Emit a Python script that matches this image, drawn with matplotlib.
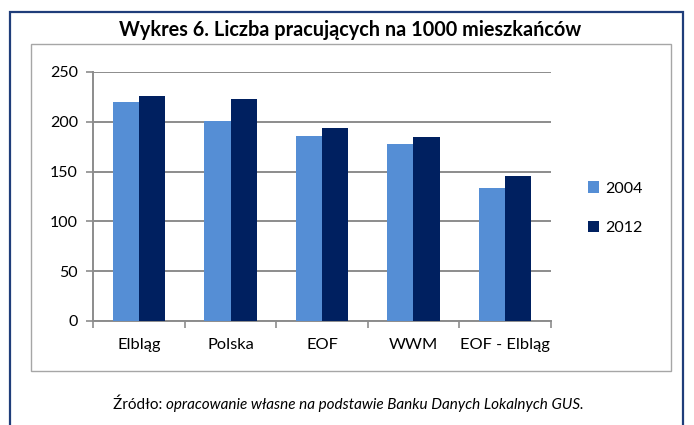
import numpy as np
import matplotlib.pyplot as plt
from matplotlib.patches import Rectangle

plt.rcParams["font.family"] = ["Lato", "DejaVu Sans"]

CATEGORIES = ["Elbląg", "Polska", "EOF", "WWM", "EOF - Elbląg"]
VALUES_2004 = [220, 201, 186, 178, 134]
VALUES_2012 = [226, 223, 194, 185, 146]
SERIES_LABELS = ["2004", "2012"]
Y_TICKS = [0, 50, 100, 150, 200, 250]

TITLE = "Wykres 6. Liczba pracujących na 1000 mieszkańców"
SOURCE_PREFIX = "Źródło: "
SOURCE_TEXT = "opracowanie własne na podstawie Banku Danych Lokalnych GUS."

COLOR_2004 = "#558ed5"
COLOR_2012 = "#002060"
COLOR_GRID = "#8c8c8c"
COLOR_FRAME = "#1f3d7a"

fig = plt.figure(figsize=(6.94, 4.25), dpi=100)
W, H = 694, 425

# outer blue frame and inner grey chart frame (pixel coords -> figure fraction)
fig.patches.append(Rectangle((10 / W, -0.05), 673 / W, 1.05 - 12 / H,
                             transform=fig.transFigure, fill=False,
                             edgecolor=COLOR_FRAME, linewidth=1.6))
fig.patches.append(Rectangle((31 / W, 1 - 371 / H), 640 / W, 327 / H,
                             transform=fig.transFigure, fill=False,
                             edgecolor="#a6a6a6", linewidth=1.0))

ax = fig.add_axes([93.3 / W, 1 - 321 / H, 457.4 / W, 249 / H])

x = np.arange(len(CATEGORIES))
bw = 0.285
ax.bar(x - bw / 2, VALUES_2004, width=bw, color=COLOR_2004,
       label=SERIES_LABELS[0], zorder=3)
ax.bar(x + bw / 2, VALUES_2012, width=bw, color=COLOR_2012,
       label=SERIES_LABELS[1], zorder=3)

ax.set_xlim(-0.5, len(CATEGORIES) - 0.5)
ax.set_ylim(0, 250)
ax.set_yticks(Y_TICKS)
ax.yaxis.grid(True, color=COLOR_GRID, linewidth=1.4, zorder=0)
ax.set_axisbelow(True)

ax.set_xticks(x)
ax.set_xticklabels(CATEGORIES, fontsize=11.8)
ax.tick_params(axis="x", length=0, pad=12)
ax.set_xticks(np.arange(len(CATEGORIES) + 1) - 0.5, minor=True)
ax.tick_params(axis="x", which="minor", length=5, color=COLOR_GRID, width=1.2)
ax.tick_params(axis="y", labelsize=11.5, length=5, color=COLOR_GRID,
               width=1.2, pad=6)

for side in ["top", "right"]:
    ax.spines[side].set_visible(False)
for side in ["left", "bottom"]:
    ax.spines[side].set_color(COLOR_GRID)
    ax.spines[side].set_linewidth(1.4)

ax.legend(loc="center left", bbox_to_anchor=(1.05, 0.452), frameon=False,
          fontsize=11.5, handlelength=0.7, handleheight=0.7,
          handletextpad=0.4, labelspacing=1.6)

fig.text(350 / W, 1 - 30 / H, TITLE, ha="center", va="center",
         fontsize=14.3, fontweight="bold")

t = fig.text(113 / W, 1 - 405 / H, SOURCE_PREFIX, ha="left", va="center",
             fontsize=11)
fig.canvas.draw()
bb = t.get_window_extent()
fig.text(bb.x1 / W, 1 - 405 / H, SOURCE_TEXT, ha="left", va="center",
         fontsize=11, style="italic")

fig.savefig("out.png", dpi=100, facecolor="white")
